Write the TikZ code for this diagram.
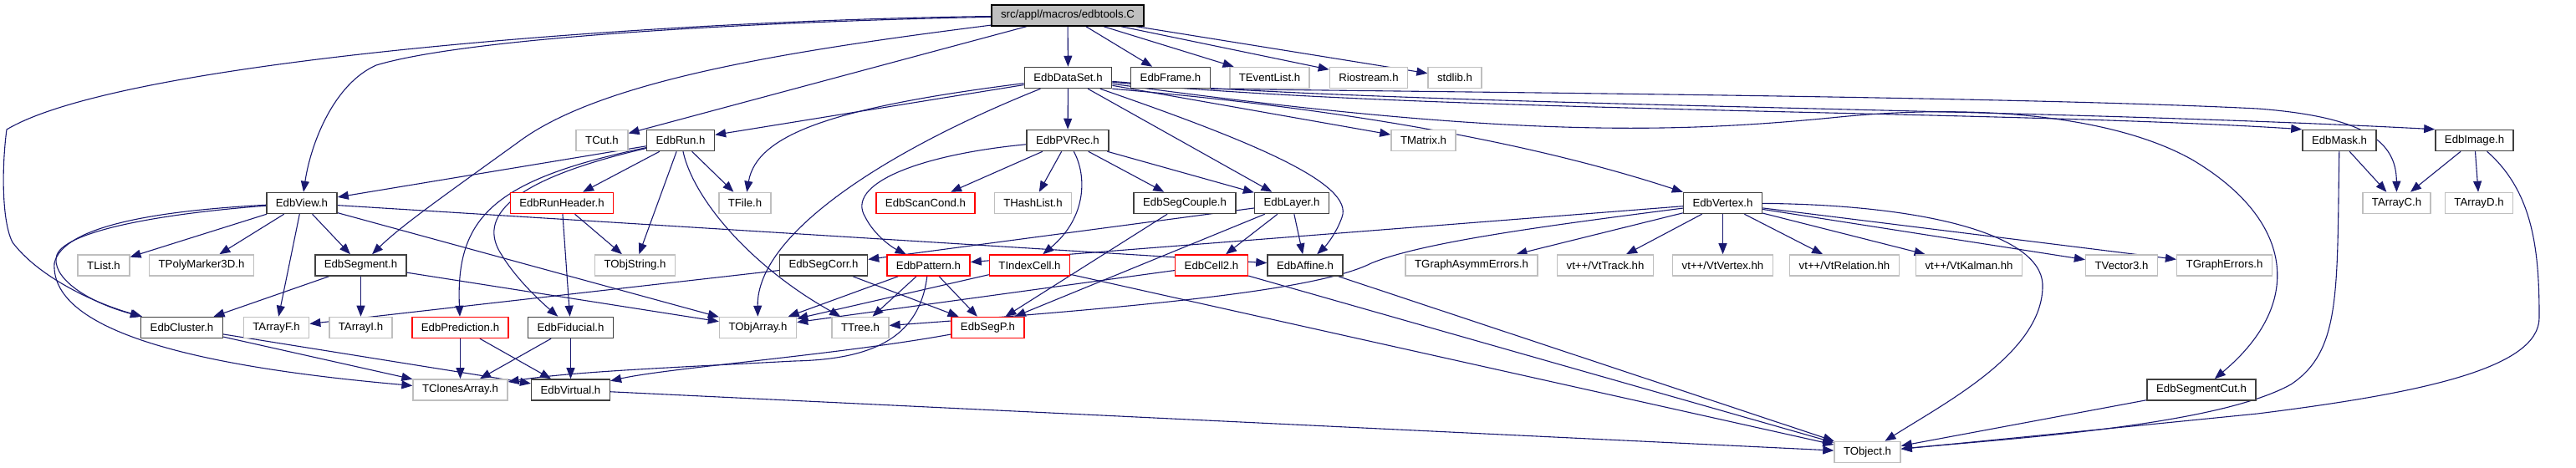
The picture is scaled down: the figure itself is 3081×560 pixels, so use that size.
\documentclass[tikz,border=0pt]{standalone}
\usepackage{fontspec}
\setmainfont{Liberation Sans}
\definecolor{depblue}{RGB}{25,25,112}
\definecolor{sysgray}{RGB}{191,191,191}
\definecolor{rootgray}{RGB}{191,191,191}
\usetikzlibrary{arrows.meta,backgrounds}

\begin{document}
\begin{tikzpicture}[x=0.5pt,y=-0.5pt,
    incbox/.style={draw=black!75, line width=0.75pt, fill=white, inner xsep=5.5pt,
      inner ysep=0pt, minimum height=12.5pt, font=\fontsize{6.6}{8}\selectfont},
    sysbox/.style={incbox, draw=sysgray},
    badbox/.style={incbox, draw=red},
    rootbox/.style={incbox, draw=black, fill=rootgray},
    dep/.style={draw=depblue, line width=0.55pt, -{Triangle[length=6.5pt,width=5pt]}}
  ]
  \useasboundingbox (0,0) rectangle (3081,560);
  % row 0
  \node[rootbox] (root) at (1277,18.5) {src/appl/macros/edbtools.C};
  % row 1
  \node[incbox] (dataset) at (1277.5,93) {EdbDataSet.h};
  \node[incbox] (frame) at (1400,93) {EdbFrame.h};
  \node[sysbox] (evlist) at (1518.5,93) {TEventList.h};
  \node[sysbox] (riostream) at (1637,93) {Riostream.h};
  \node[sysbox] (stdlibh) at (1740,93) {stdlib.h};
  % row 2
  \node[sysbox] (tcut) at (720,168) {TCut.h};
  \node[incbox] (run) at (814,168) {EdbRun.h};
  \node[incbox] (pvrec) at (1277,168) {EdbPVRec.h};
  \node[sysbox] (tmatrix) at (1702.5,168) {TMatrix.h};
  \node[incbox] (mask) at (2798,168) {EdbMask.h};
  \node[incbox] (image) at (2959.5,168) {EdbImage.h};
  % row 3
  \node[incbox] (view) at (361,243) {EdbView.h};
  \node[badbox] (runheader) at (672,243) {EdbRunHeader.h};
  \node[sysbox] (tfile) at (891,243) {TFile.h};
  \node[badbox] (scancond) at (1107,243) {EdbScanCond.h};
  \node[sysbox] (hashlist) at (1235.5,243) {THashList.h};
  \node[incbox] (segcouple) at (1417,243) {EdbSegCouple.h};
  \node[incbox] (layer) at (1545,243) {EdbLayer.h};
  \node[incbox] (vertex) at (2060.5,243) {EdbVertex.h};
  \node[sysbox] (tarrayc) at (2866.5,243) {TArrayC.h};
  \node[sysbox] (tarrayd) at (2965,243) {TArrayD.h};
  % row 4
  \node[sysbox] (tlist) at (124,317.5) {TList.h};
  \node[sysbox] (poly3d) at (241,317.5) {TPolyMarker3D.h};
  \node[incbox] (segment) at (431.5,317.5) {EdbSegment.h};
  \node[sysbox] (tobjstring) at (759.5,317.5) {TObjString.h};
  \node[incbox] (segcorr) at (985,317.5) {EdbSegCorr.h};
  \node[badbox] (pattern) at (1110.5,317.5) {EdbPattern.h};
  \node[badbox] (indexcell) at (1231.5,317.5) {TIndexCell.h};
  \node[badbox] (cell2) at (1449,317.5) {EdbCell2.h};
  \node[incbox] (affine) at (1561,317.5) {EdbAffine.h};
  \node[sysbox] (asymmerr) at (1760,317.5) {TGraphAsymmErrors.h};
  \node[sysbox] (vttrack) at (1920,317.5) {vt++/VtTrack.hh};
  \node[sysbox] (vtvertex) at (2060.5,317.5) {vt++/VtVertex.hh};
  \node[sysbox] (vtrelation) at (2206,317.5) {vt++/VtRelation.hh};
  \node[sysbox] (vtkalman) at (2355,317.5) {vt++/VtKalman.hh};
  \node[sysbox] (tvector3) at (2537.5,317.5) {TVector3.h};
  \node[sysbox] (grapherr) at (2660.5,317.5) {TGraphErrors.h};
  % row 5
  \node[incbox] (cluster) at (217.5,392) {EdbCluster.h};
  \node[sysbox] (tarrayf) at (330.5,392) {TArrayF.h};
  \node[sysbox] (tarrayi) at (431.5,392) {TArrayI.h};
  \node[badbox] (prediction) at (550.5,392) {EdbPrediction.h};
  \node[incbox] (fiducial) at (682.5,392) {EdbFiducial.h};
  \node[sysbox] (tobjarray) at (906.5,392) {TObjArray.h};
  \node[sysbox] (ttree) at (1029,392) {TTree.h};
  \node[badbox] (segp) at (1181.5,392) {EdbSegP.h};
  % row 6
  \node[sysbox] (tclones) at (550.5,466.5) {TClonesArray.h};
  \node[incbox] (virtual) at (682.5,466.5) {EdbVirtual.h};
  \node[incbox] (segcut) at (2633,466.5) {EdbSegmentCut.h};
  % row 7
  \node[sysbox] (tobject) at (2233.5,541) {TObject.h};

  \begin{scope}[on background layer]
  % edbtools.C
  \draw[dep] (root) -- (dataset);
  \draw[dep] (root) -- (frame);
  \draw[dep] (root) -- (evlist);
  \draw[dep] (root) -- (riostream);
  \draw[dep] (root) -- (stdlibh);
  \draw[dep] (root) -- (tcut);
  \draw[dep] (root) .. controls (900,26) and (560,45) .. (450,78) .. controls (400,100) and (372,170) .. (view);
  \draw[dep] (root) .. controls (800,24) and (150,70) .. (8,155) .. controls (2,200) and (2,265) .. (15,290) .. controls (45,330) and (110,362) .. (cluster);
  \draw[dep] (root) .. controls (950,60) and (720,95) .. (620,170) .. controls (530,235) and (480,270) .. (segment);
  % EdbDataSet.h
  \draw[dep] (dataset) -- (pvrec);
  \draw[dep] (dataset) -- (run);
  \draw[dep] (dataset) .. controls (1000,128) and (905,160) .. (tfile);
  \draw[dep] (dataset) .. controls (1060,180) and (905,280) .. (tobjarray);
  \draw[dep] (dataset) -- (layer);
  \draw[dep] (dataset) .. controls (1500,170) and (1620,220) .. (1605,260) .. controls (1598,280) and (1585,295) .. (affine);
  \draw[dep] (dataset.south east) .. controls (1550,125) and (1800,160) .. (vertex.north west);
  \draw[dep] (dataset) -- (tmatrix);
  \draw[dep] (dataset) .. controls (1700,128) and (2400,128) .. (image.north west);
  \draw[dep] (dataset) .. controls (1700,135) and (2400,132) .. (mask.north west);
  \draw[dep] (dataset) .. controls (1800,165) and (2000,160) .. (2200,140) .. controls (2350,125) and (2520,135) .. (2620,190) .. controls (2740,260) and (2760,360) .. (segcut);
  % EdbFrame.h
  \draw[dep] (frame.south east) .. controls (1700,110) and (2400,115) .. (2700,130) .. controls (2830,140) and (2866,170) .. (tarrayc);
  % EdbRun.h
  \draw[dep] (run) -- (view);
  \draw[dep] (run) -- (runheader);
  \draw[dep] (run) -- (tfile);
  \draw[dep] (run) -- (tobjstring);
  \draw[dep] (run) .. controls (590,215) and (545,260) .. (prediction);
  \draw[dep] (run) .. controls (610,215) and (570,260) .. (600,305) .. controls (615,330) and (640,355) .. (fiducial);
  \draw[dep] (run) .. controls (830,240) and (900,320) .. (ttree);
  % EdbRunHeader.h
  \draw[dep] (runheader) -- (fiducial);
  \draw[dep] (runheader) -- (tobjstring);
  % EdbPVRec.h
  \draw[dep] (pvrec) -- (scancond);
  \draw[dep] (pvrec) -- (hashlist);
  \draw[dep] (pvrec) -- (segcouple);
  \draw[dep] (pvrec) -- (layer);
  \draw[dep] (pvrec) .. controls (1100,185) and (1010,220) .. (1035,260) .. controls (1045,280) and (1065,295) .. (pattern);
  \draw[dep] (pvrec) .. controls (1300,210) and (1300,260) .. (indexcell);
  % EdbView.h
  \draw[dep] (view) .. controls (200,255) and (80,275) .. (68,305) .. controls (60,330) and (100,360) .. (cluster);
  \draw[dep] (view) .. controls (190,252) and (75,270) .. (65,315) .. controls (60,400) and (250,440) .. (tclones);
  \draw[dep] (view) -- (tlist);
  \draw[dep] (view) -- (poly3d);
  \draw[dep] (view) -- (tarrayf);
  \draw[dep] (view) -- (segment);
  \draw[dep] (view) -- (tobjarray);
  \draw[dep] (view) -- (affine);
  % EdbSegment.h
  \draw[dep] (segment) -- (cluster);
  \draw[dep] (segment) -- (tarrayi);
  \draw[dep] (segment) -- (tobjarray);
  % EdbCluster.h, EdbPrediction.h, EdbFiducial.h
  \draw[dep] (cluster) -- (tclones);
  \draw[dep] (cluster) -- (virtual);
  \draw[dep] (prediction) -- (tclones);
  \draw[dep] (prediction) -- (virtual);
  \draw[dep] (fiducial) -- (tclones);
  \draw[dep] (fiducial) -- (virtual);
  \draw[dep] (virtual) -- (tobject);
  % EdbSegCorr.h, EdbPattern.h, TIndexCell.h, EdbCell2.h
  \draw[dep] (segcorr) -- (tarrayf);
  \draw[dep] (segcorr) -- (segp);
  \draw[dep] (pattern) -- (tobjarray);
  \draw[dep] (pattern) -- (ttree);
  \draw[dep] (pattern) -- (segp);
  \draw[dep] (pattern) .. controls (1100,400) and (1050,430) .. (950,432) .. controls (800,440) and (680,445) .. (tclones);
  \draw[dep] (segp) .. controls (1000,425) and (800,440) .. (virtual);
  \draw[dep] (indexcell) -- (tobjarray);
  \draw[dep] (indexcell) -- (tobject);
  \draw[dep] (cell2) -- (tobjarray);
  \draw[dep] (cell2) -- (tobject);
  \draw[dep] (affine) -- (tobject);
  % EdbSegCouple.h, EdbLayer.h
  \draw[dep] (segcouple) -- (segp);
  \draw[dep] (layer) -- (segp);
  \draw[dep] (layer) -- (cell2);
  \draw[dep] (layer) -- (affine);
  \draw[dep] (layer) -- (segcorr);
  % EdbVertex.h
  \draw[dep] (vertex) -- (pattern);
  \draw[dep] (vertex) .. controls (1850,270) and (1700,290) .. (1640,315) .. controls (1580,345) and (1400,365) .. (ttree);
  \draw[dep] (vertex) -- (asymmerr);
  \draw[dep] (vertex) -- (vttrack);
  \draw[dep] (vertex) -- (vtvertex);
  \draw[dep] (vertex) -- (vtrelation);
  \draw[dep] (vertex) -- (vtkalman);
  \draw[dep] (vertex) -- (tvector3);
  \draw[dep] (vertex) -- (grapherr);
  \draw[dep] (vertex) .. controls (2300,245) and (2440,280) .. (2443,340) .. controls (2445,420) and (2330,480) .. (tobject);
  % EdbMask.h, EdbImage.h, EdbSegmentCut.h
  \draw[dep] (mask) -- (tarrayc);
  \draw[dep] (mask) .. controls (2795,350) and (2800,420) .. (2740,460) .. controls (2650,510) and (2400,525) .. (tobject);
  \draw[dep] (image) -- (tarrayc);
  \draw[dep] (image) -- (tarrayd);
  \draw[dep] (image) .. controls (3030,230) and (3037,300) .. (3037,380) .. controls (3037,440) and (2900,470) .. (2700,495) .. controls (2500,515) and (2350,530) .. (tobject);
  \draw[dep] (segcut) -- (tobject);
  \end{scope}
\end{tikzpicture}
\end{document}
